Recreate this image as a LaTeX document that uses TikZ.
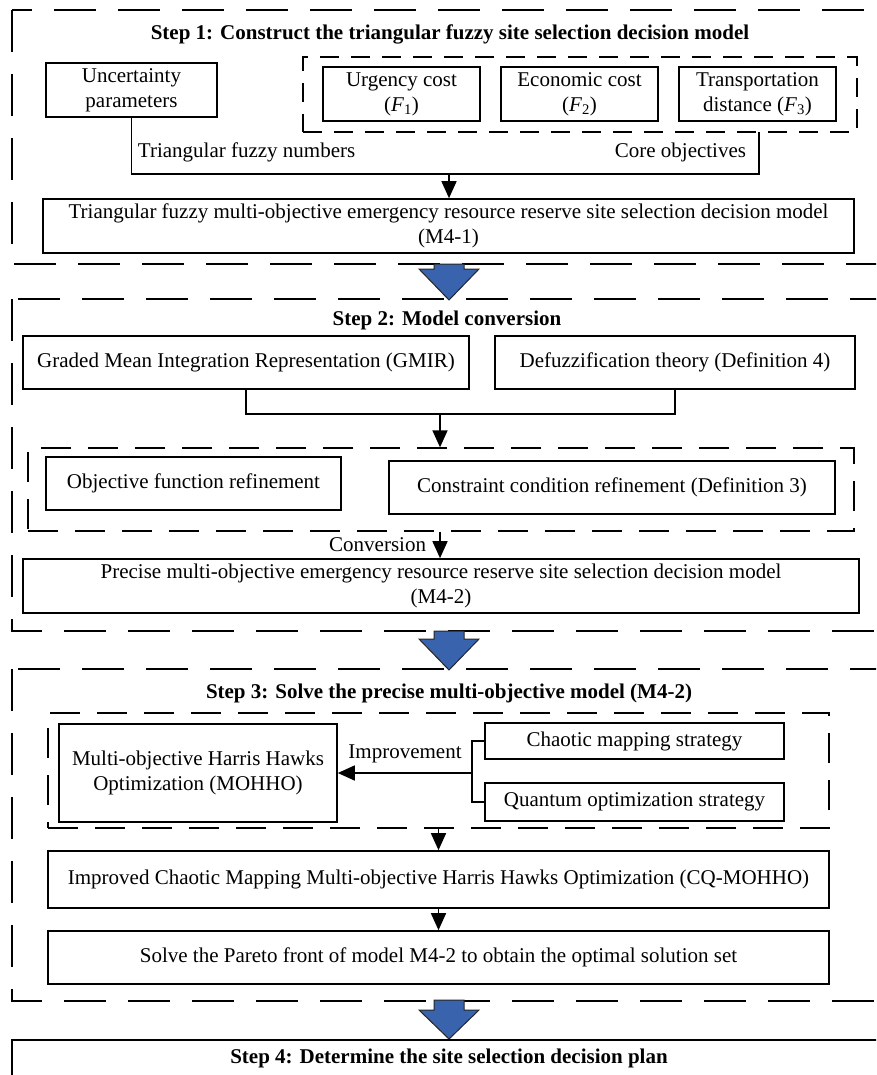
\documentclass[tikz,border=0pt]{standalone}
\usepackage{fontspec}
\setmainfont{Liberation Serif}
\usetikzlibrary{arrows.meta}

\begin{document}
\begin{tikzpicture}[x=1pt,y=1pt,yscale=-1,
  every node/.style={font=\fontsize{21}{25}\selectfont, inner sep=0.75pt},
  steptitle/.style={font=\fontsize{21}{25}\selectfont\bfseries},
  box/.style={draw, line width=1.6pt, align=center, inner sep=0pt},
  stepframe/.style={draw, line width=2pt, dash pattern=on 42pt off 22pt},
  groupframe/.style={draw, line width=1.3pt, dash pattern=on 30pt off 17pt, inner sep=0pt},
  link/.style={line width=1.5pt},
  arr/.style={line width=1.5pt, -{Triangle[length=17pt,width=15pt]}},
  bigarrow/.style={draw=black!85, line width=1pt, fill={rgb,255:red,58;green,99;blue,173}}
]
\useasboundingbox (0,0) rectangle (876,1075);
\clip (0,0) rectangle (876,1075);

%Step 1 frame
\draw [stepframe] (12,10) rectangle (920,264);
\node [steptitle] (t1) at (450,34) {Step 1: Construct the triangular fuzzy site selection decision model};
%Shape: Rectangle
\node [box, minimum width=171pt, minimum height=54pt] (unc) at (131.5,90) {Uncertainty\\parameters};
%Shape: Dashed group
\node [groupframe, dash pattern=on 19pt off 12pt, line width=1.2pt, minimum width=554pt, minimum height=75pt] (grp1) at (580,94.5) {};
\node [box, minimum width=157pt, minimum height=54pt] (f1) at (401.5,94) {Urgency cost\\(\textit{F}\textsubscript{1})};
\node [box, minimum width=157pt, minimum height=54pt] (f2) at (579.5,94) {Economic cost\\(\textit{F}\textsubscript{2})};
\node [box, minimum width=157pt, minimum height=54pt] (f3) at (757.5,94) {Transportation\\distance (\textit{F}\textsubscript{3})};
\node [box, minimum width=811pt, minimum height=54pt] (m1) at (448.5,226) {Triangular fuzzy multi-objective emergency resource reserve site selection decision model\\(M4-1)};
\coordinate (j1) at (449,174);
\coordinate (obj) at (759,132);
%Straight Lines
\draw [link] (unc.south) |- (j1) -| (obj);
\draw [arr] (j1) -- (m1.north -| j1);
% Text Node
\node [anchor=west] (tfn) at (137,152) {Triangular fuzzy numbers};
% Text Node
\node [anchor=east] (core) at (747,152) {Core objectives};

%Shape: Down Arrow
\draw [bigarrow] (434,264) -- (464,264) -- (464,269) -- (479,269) -- (449,300) -- (419,269) -- (434,269) -- cycle;

%Step 2 frame
\draw [stepframe] (12,299) rectangle (920,631);
\node [steptitle] (t2) at (447,320) {Step 2: Model conversion};
\node [box, minimum width=446pt, minimum height=53pt] (gmir) at (246,362.5) {Graded Mean Integration Representation (GMIR)};
\node [box, minimum width=360pt, minimum height=53pt] (defz) at (675,362.5) {Defuzzification theory (Definition 4)};
\coordinate (j2) at (440,414);
\draw [link] (gmir.south) |- (j2) -| (defz.south);
%Shape: Dashed group
\node [groupframe, minimum width=826pt, minimum height=83pt] (grp2) at (441,489.5) {};
\draw [arr] (j2) -- (grp2.north -| j2);
\node [box, minimum width=295pt, minimum height=53pt] (objf) at (193.5,483.5) {Objective function refinement};
\node [box, minimum width=446pt, minimum height=53pt] (cons) at (612,487.5) {Constraint condition refinement (Definition 3)};
\node [box, minimum width=836pt, minimum height=54pt] (m2) at (441,586) {Precise multi-objective emergency resource reserve site selection decision model\\(M4-2)};
\draw [arr] (grp2.south -| j2) -- (m2.north -| j2);
% Text Node
\node [anchor=east] (conv) at (427,545) {Conversion};

%Shape: Down Arrow
\draw [bigarrow] (434,631) -- (464,631) -- (464,639) -- (479,639) -- (449,670) -- (419,639) -- (434,639) -- cycle;

%Step 3 frame
\draw [stepframe] (12,669) rectangle (920,1001);
\node [steptitle] (t3) at (449,693) {Step 3: Solve the precise multi-objective model (M4-2)};
%Shape: Dashed group
\node [groupframe, minimum width=781pt, minimum height=115pt] (grp3) at (438.5,770.5) {};
\node [box, minimum width=278pt, minimum height=98pt] (mohho) at (198,773) {Multi-objective Harris Hawks\\Optimization (MOHHO)};
\node [box, minimum width=299pt, minimum height=36pt] (chaos) at (634.5,741) {Chaotic mapping strategy};
\node [box, minimum width=299pt, minimum height=38pt] (quant) at (634.5,802) {Quantum optimization strategy};
\coordinate (j3) at (472,773);
\draw [link] (chaos.west) -| (j3) |- (quant.west);
\draw [arr] (j3) -- (mohho.east);
% Text Node
\node (impr) at (405,754) {Improvement};
\node [box, minimum width=781pt, minimum height=57pt] (cq) at (438.5,879.5) {Improved Chaotic Mapping Multi-objective Harris Hawks Optimization (CQ-MOHHO)};
\node [box, minimum width=781pt, minimum height=53pt] (par) at (438.5,957.5) {Solve the Pareto front of model M4-2 to obtain the optimal solution set};
\draw [arr] (grp3.south -| cq.north) -- (cq.north);
\draw [arr] (cq.south) -- (par.north);

%Shape: Down Arrow
\draw [bigarrow] (434,1000) -- (464,1000) -- (464,1010) -- (479,1010) -- (449,1039) -- (419,1010) -- (434,1010) -- cycle;

%Step 4 frame
\draw [line width=1.6pt] (12,1100) |- (920,1040);
\node [steptitle] (t4) at (449,1058) {Step 4: Determine the site selection decision plan};

\end{tikzpicture}
\end{document}
